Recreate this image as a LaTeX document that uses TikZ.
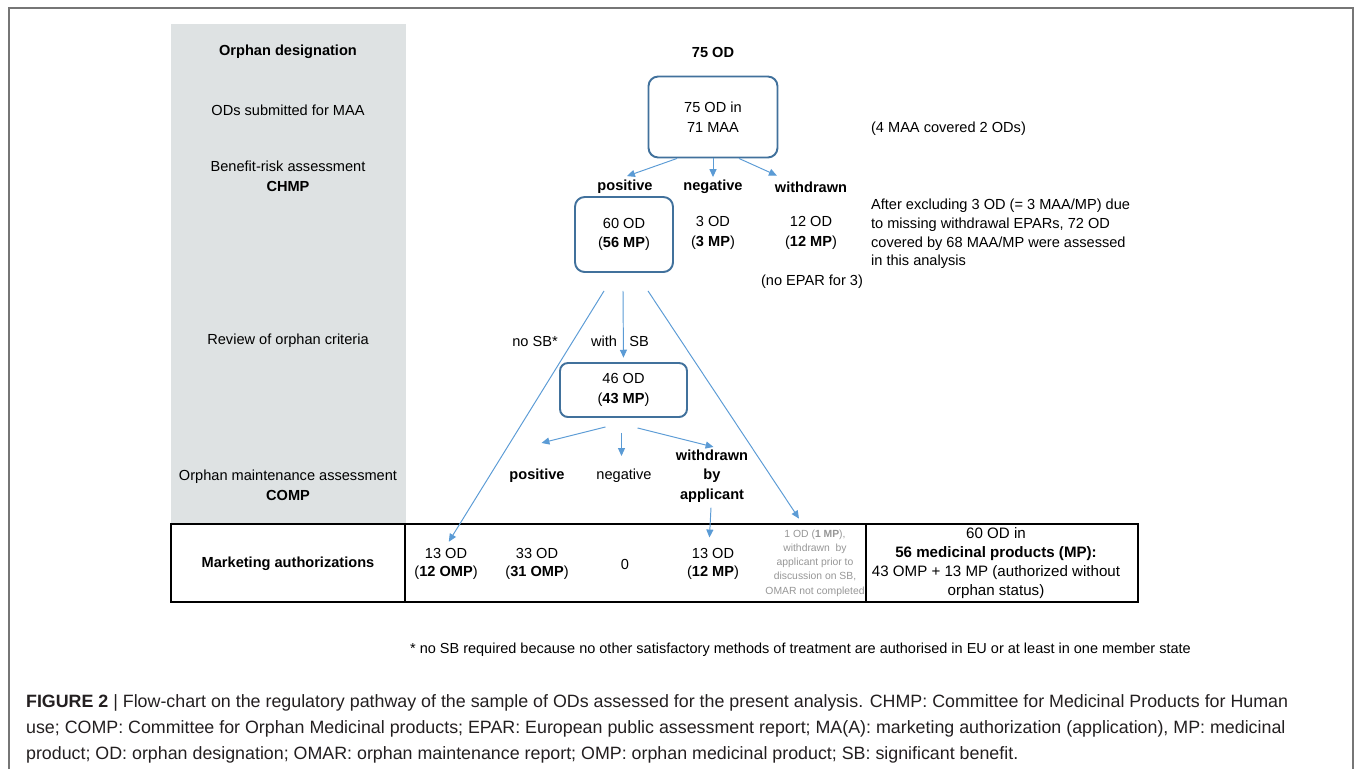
\documentclass[tikz,border=0pt]{standalone}
\usepackage{fontspec}
\setmainfont{Liberation Sans}
\usetikzlibrary{arrows.meta,calc}

\definecolor{panelgray}{RGB}{222,226,227}
\definecolor{boxblue}{RGB}{65,113,156}
\definecolor{arrowblue}{RGB}{91,155,213}
\definecolor{framegray}{RGB}{118,118,118}
\definecolor{notegray}{RGB}{150,150,150}
\definecolor{captext}{RGB}{35,31,32}

\newcommand{\labelsize}{\fontsize{8.3}{11.2}\selectfont}
\newcommand{\cellsize}{\fontsize{8.3}{10.3}\selectfont}
\newcommand{\tinysize}{\fontsize{5.9}{8.1}\selectfont}
\newcommand{\notesize}{\fontsize{8.25}{9}\selectfont}
\newcommand{\capsize}{\fontsize{10.15}{15}\selectfont}

\begin{document}
\begin{tikzpicture}[x=0.02cm, y=-0.02cm,
    every node/.style={font=\labelsize, inner sep=1pt, align=center},
    boldlbl/.style={font=\labelsize\bfseries},
    countbox/.style={draw=boxblue, line width=1.1pt, rounded corners=5.5pt},
    arr/.style={draw=arrowblue, line width=0.55pt, -{Triangle[length=4.5pt,width=4pt]}},
    tbl/.style={line width=1.1pt}]
\useasboundingbox (0,0) rectangle (1355,769);

%% Frame and side panel
\draw[framegray, line width=0.8pt] (9,769) -- (9,8) -- (1353,8) -- (1353,769);
\fill[panelgray] (171,24) rectangle (406,524);

%% Stages
\node[boldlbl] (lblOD) at (288,52) {Orphan designation};
\node (lblMAA) at (288,110) {ODs submitted for MAA};
\node (lblBR) at (288,176) {Benefit-risk assessment\\\textbf{CHMP}};
\node (lblReview) at (288,341) {Review of orphan criteria};
\node (lblCOMP) at (288,485) {Orphan maintenance assessment\\\textbf{COMP}};

%% CHMP
\node[boldlbl] (od75) at (713,52) {75 OD};
\node[countbox, minimum width=2.58cm, minimum height=1.62cm] (maa) at (713,117) {75 OD in\\71 MAA};
\node[anchor=west] (note4) at (869,129) {(4 MAA covered 2 ODs)};
\node[boldlbl] (posCHMP) at (625,187) {positive};
\node[boldlbl] (negCHMP) at (713,187) {negative};
\node[boldlbl] (wdCHMP) at (811,187) {withdrawn};
\node[countbox, minimum width=1.96cm, minimum height=1.5cm] (pos60) at (624,234.5) {60 OD\\(\textbf{56 MP})};
\node (neg3) at (713,233) {3 OD\\(\textbf{3 MP})};
\node (wd12) at (811,233) {12 OD\\(\textbf{12 MP})};
\node (noepar) at (812,282) {(no EPAR for 3)};
\node[anchor=west, align=left, font=\fontsize{8.3}{10.6}\selectfont] (excl) at (869,234)
    {After excluding 3 OD (= 3 MAA/MP) due\\to missing withdrawal EPARs, 72 OD\\covered by 68 MAA/MP were assessed\\in this analysis};

\draw[arr] ($(maa.south)+(-36,0)$) -- ($(posCHMP.north)+(2,-2)$);
\draw[arr] (maa.south) -- ($(negCHMP.north)+(0,-1)$);
\draw[arr] ($(maa.south)+(26,0)$) -- ($(wdCHMP.north west)+(4,-4)$);

%% Review of orphan criteria
\node (noSB) at (535,341) {no SB*};
\node (withSB) at (620,341) {with\hspace{7pt}SB};
\node[countbox, rounded corners=4.5pt, minimum width=2.54cm, minimum height=1.08cm] (sb46) at (623.5,390) {46 OD\\(\textbf{43 MP})};

\coordinate (fanL) at ($(pos60.south)+(-20,18)$);
\coordinate (fanM) at ($(pos60.south)+(-1,18)$);
\coordinate (fanR) at ($(pos60.south)+(24,18)$);

%% COMP
\node[boldlbl] (posCOMP) at (537,476) {positive};
\node (negCOMP) at (624,476) {negative};
\node[boldlbl] (wdCOMP) at (712,476) {withdrawn\\by\\applicant};

\draw[arr] ($(sb46.south)+(-18,9)$) -- ++(-64,16);
\draw[arr] ($(sb46.south)+(-2,15)$) -- ++(0,23);
\draw[arr] ($(sb46.south)+(14,10)$) -- ++(76,19);

%% Marketing authorizations
\draw[tbl] (171,524) rectangle (1138,602);
\draw[tbl] (405,524) -- (405,602) (866,524) -- (866,602);
\node[boldlbl] (lblMA) at (288,564) {Marketing authorizations};
\node[font=\cellsize] (ma13) at (446,564) {13 OD\\(\textbf{12 OMP})};
\node[font=\cellsize] (ma33) at (537,564) {33 OD\\(\textbf{31 OMP})};
\node (ma0) at (625,564) {0};
\node[font=\cellsize] (ma13b) at (713,564) {13 OD\\(\textbf{12 MP})};
\node[font=\tinysize, text=notegray] (ma1) at (815,563)
    {1 OD (\textbf{1 MP}),\\withdrawn\ \ by\\applicant prior to\\discussion on SB,\\OMAR not completed};
\node[font=\fontsize{8.6}{10.8}\selectfont] (total) at (996,563)
    {60 OD in\\\textbf{56 medicinal products (MP):}\\43 OMP + 13 MP (authorized without\\orphan status)};

\draw[arr, shorten >=3pt] (fanL) -- (ma13.north);
\draw[arr, shorten >=2.5pt] (fanM) -- (sb46.north);
\draw[arr] (fanR) -- ($(ma1.north)+(-16,-9)$);
\draw[arr, shorten >=5pt] ($(wdCOMP.south)+(-1,3)$) -- ($(ma13b.north)+(-4,0)$);

%% Footnote and caption
\node[anchor=west, font=\notesize] (foot) at (408,650)
    {* no SB required because no other satisfactory methods of treatment are authorised in EU or at least in one member state};
\node[anchor=west, align=left, font=\capsize, text=captext] (caption) at (24,729)
    {\textbf{FIGURE 2} | Flow-chart on the regulatory pathway of the sample of ODs assessed for the present analysis. CHMP: Committee for Medicinal Products for Human\\
     use; COMP: Committee for Orphan Medicinal products; EPAR: European public assessment report; MA(A): marketing authorization (application), MP: medicinal\\
     product; OD: orphan designation; OMAR: orphan maintenance report; OMP: orphan medicinal product; SB: significant benefit.};
\end{tikzpicture}
\end{document}
